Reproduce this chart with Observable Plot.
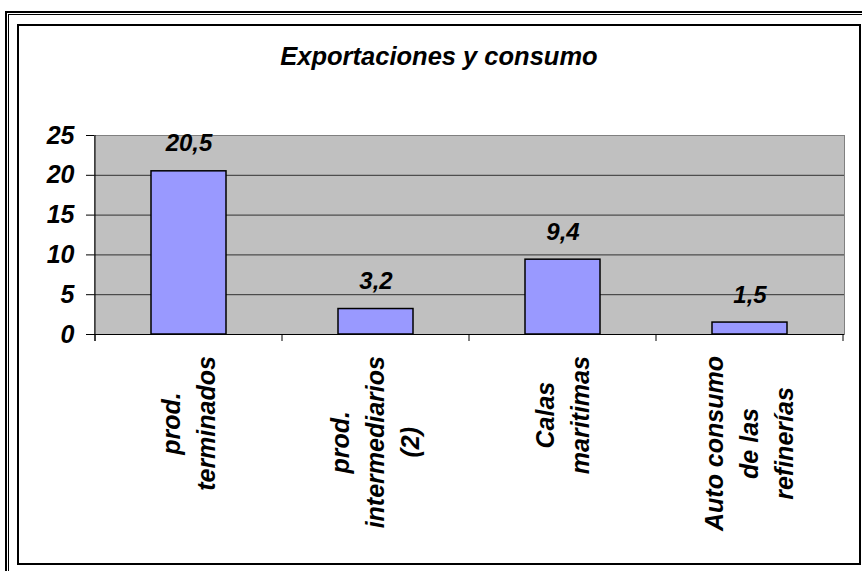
<!DOCTYPE html>
<html><head><meta charset="utf-8">
<script src="https://cdn.jsdelivr.net/npm/d3@7"></script>
<script src="https://cdn.jsdelivr.net/npm/@observablehq/plot@0.6"></script>
<style>
html,body{margin:0;padding:0;background:#fff;overflow:hidden;width:862px;height:571px;}
#wrap{position:relative;width:862px;height:571px;overflow:hidden;font-family:"Liberation Sans",Arial,sans-serif;}
#chart{position:absolute;left:0;top:0;}
.outer1{position:absolute;left:5px;top:11px;width:1000px;height:1000px;border-left:2px solid #000;border-top:2px solid #000;pointer-events:none;}
.outer2{position:absolute;left:8px;top:14px;width:1000px;height:1000px;border-left:1px solid #000;border-top:1px solid #000;pointer-events:none;}
.inner{position:absolute;left:17px;top:24px;width:840px;height:537px;border:2px solid #000;pointer-events:none;}
#title{position:absolute;left:0;width:878px;top:44px;text-align:center;font:italic bold 25.5px/25px "Liberation Sans",Arial,sans-serif;color:#000;}
</style>
</head>
<body>
<div id="wrap">
  <div id="chart"></div>
  <div id="title">Exportaciones y consumo</div>
  <div class="outer1"></div>
  <div class="outer2"></div>
  <div class="inner"></div>
</div>
<script>
const categories = ["prod.\nterminados", "prod.\nintermediarios\n(2)", "Calas\nmaritimas", "Auto consumo\nde las\nrefinerías"];
const values = [20.5, 3.2, 9.4, 1.5];
const yTicks = [0, 5, 10, 15, 20, 25];

const data = categories.map((c, i) => ({cat: c, value: values[i], label: String(values[i]).replace(".", ",")}));
const font = {fontFamily: "'Liberation Sans', Arial, sans-serif", fontWeight: "bold", fontStyle: "italic"};

function axisLines(index, scales, values, dimensions) {
  const x = scales.x, y = scales.y;
  const bw = typeof x.bandwidth === "function" ? x.bandwidth()
    : (scales.scales && scales.scales.x && scales.scales.x.bandwidth) ||
      (dimensions.width - dimensions.marginLeft - dimensions.marginRight) / categories.length;
  const xs = categories.map(c => x(c));
  xs.push(x(categories[categories.length - 1]) + bw);
  const g = d3.create("svg:g").attr("stroke", "#000").attr("stroke-width", 1);
  g.append("line").attr("x1", xs[0]).attr("x2", xs[0]).attr("y1", y(yTicks[yTicks.length - 1])).attr("y2", y(0) + 7);
  for (const xv of xs) g.append("line").attr("x1", xv).attr("x2", xv).attr("y1", y(0)).attr("y2", y(0) + 7);
  return g.node();
}

const chart = Plot.plot({
  width: 862, height: 571,
  marginLeft: 94, marginRight: 18, marginTop: 135, marginBottom: 237,
  style: {background: "transparent", overflow: "visible", color: "#000"},
  x: {type: "band", domain: categories, padding: 0},
  y: {domain: [0, 25]},
  marks: [
    Plot.frame({fill: "#C0C0C0", stroke: "#808080"}),
    Plot.gridY({ticks: yTicks.filter(t => t > 0 && t < 25), stroke: "#000", strokeOpacity: 0.75}),
    Plot.barY(data, {x: "cat", y: "value", fill: "#9999FF", stroke: "#000", strokeWidth: 1.5, insetLeft: 56, insetRight: 56}),
    Plot.text(data, {x: "cat", y: "value", text: "label", dy: -20, lineAnchor: "bottom", fontSize: 24, fill: "#000", ...font}),
    Plot.ruleY([0], {stroke: "#000"}),
    axisLines,
    Plot.axisY({ticks: yTicks, tickSize: 8, tickPadding: 12, fontSize: 25, color: "#000", label: null, ...font}),
    Plot.axisX({tickSize: 0, tickPadding: 22, rotate: -90, textAnchor: "middle", lineAnchor: "middle", lineHeight: 1.4, fontSize: 25, dx: -3, color: "#000", label: null, ...font})
  ]
});
document.getElementById("chart").appendChild(chart);

// align the top of every rotated category label just below the axis
const targetTop = 356;
chart.querySelectorAll('g[aria-label="x-axis tick label"] text').forEach(t => {
  const r = t.getBoundingClientRect();
  const delta = targetTop - r.top;
  const tr = t.getAttribute("transform") || "";
  t.setAttribute("transform", `translate(0,${delta}) ` + tr);
});
</script>
</body></html>
